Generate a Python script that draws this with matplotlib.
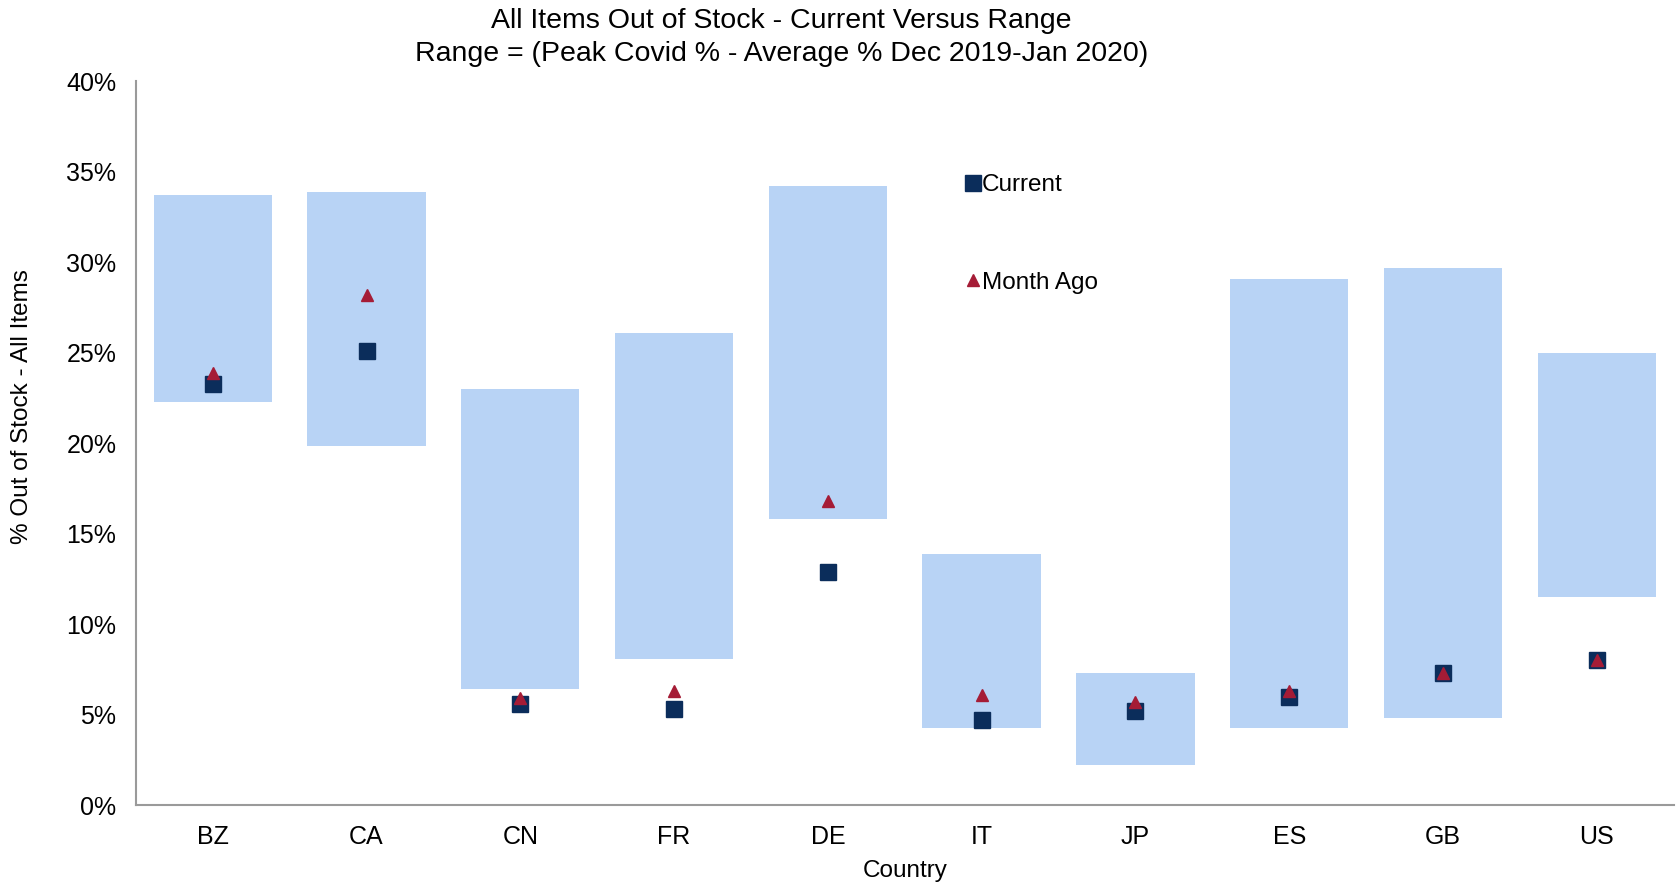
import numpy as np
import matplotlib.pyplot as plt
from matplotlib.ticker import FuncFormatter

plt.rcParams['font.family'] = ['Liberation Sans', 'DejaVu Sans']

countries = ['BZ', 'CA', 'CN', 'FR', 'DE', 'IT', 'JP', 'ES', 'GB', 'US']
# range = average Dec19-Jan20 (low) to peak covid (high), in %
range_low = [22.3, 19.85, 6.4, 8.1, 15.8, 4.25, 2.2, 4.25, 4.85, 11.5]
range_high = [33.7, 33.9, 23.0, 26.1, 34.2, 13.9, 7.3, 29.1, 29.7, 25.0]
current = [23.3, 25.1, 5.6, 5.3, 12.9, 4.7, 5.2, 6.0, 7.3, 8.0]
month_ago = [23.9, 28.2, 5.9, 6.3, 16.8, 6.1, 5.7, 6.3, 7.3, 8.0]

x = np.arange(len(countries))
low = np.array(range_low)
high = np.array(range_high)

fig = plt.figure(figsize=(16.77, 8.83), dpi=100)
ax = fig.add_axes([0.081, 0.088, 0.917, 0.82])

ax.bar(x, high - low, bottom=low, width=0.77, color='#b8d3f5', zorder=1)
ax.plot(x, current, 's', color='#0b2d5b', markersize=11, linestyle='none',
        label='Current', zorder=3)
ax.plot(x, month_ago, '^', color='#a51c36', markersize=8, linestyle='none',
        label='Month Ago', zorder=4)

ax.set_xlim(-0.5, len(countries) - 0.5)
ax.set_ylim(0, 40)
ax.set_yticks(np.arange(0, 41, 5))
ax.yaxis.set_major_formatter(FuncFormatter(lambda v, p: f'{v:.0f}%'))
ax.set_xticks(x)
ax.set_xticklabels(countries)
ax.tick_params(axis='both', length=0, labelsize=18)
ax.tick_params(axis='x', pad=14)
ax.tick_params(axis='y', pad=14)

for s in ['top', 'right']:
    ax.spines[s].set_visible(False)
for s in ['left', 'bottom']:
    ax.spines[s].set_color('#9a9a9a')
    ax.spines[s].set_linewidth(1.5)

ax.set_xlabel('Country', fontsize=17.5, labelpad=8)
ax.set_ylabel('% Out of Stock - All Items', fontsize=17.5)
ax.yaxis.set_label_coords(-0.067, 0.551)

ax.legend(loc='upper left', bbox_to_anchor=(0.533, 0.885), frameon=False,
          fontsize=17.5, labelspacing=3.1, handlelength=0.6, handletextpad=0.1,
          borderaxespad=0)

fig.text(0.466, 0.976, 'All Items Out of Stock - Current Versus Range',
         ha='center', va='center', fontsize=20.5)
fig.text(0.466, 0.939, 'Range = (Peak Covid % - Average % Dec 2019-Jan 2020)',
         ha='center', va='center', fontsize=20.5)

fig.savefig('out.png', dpi=100)
